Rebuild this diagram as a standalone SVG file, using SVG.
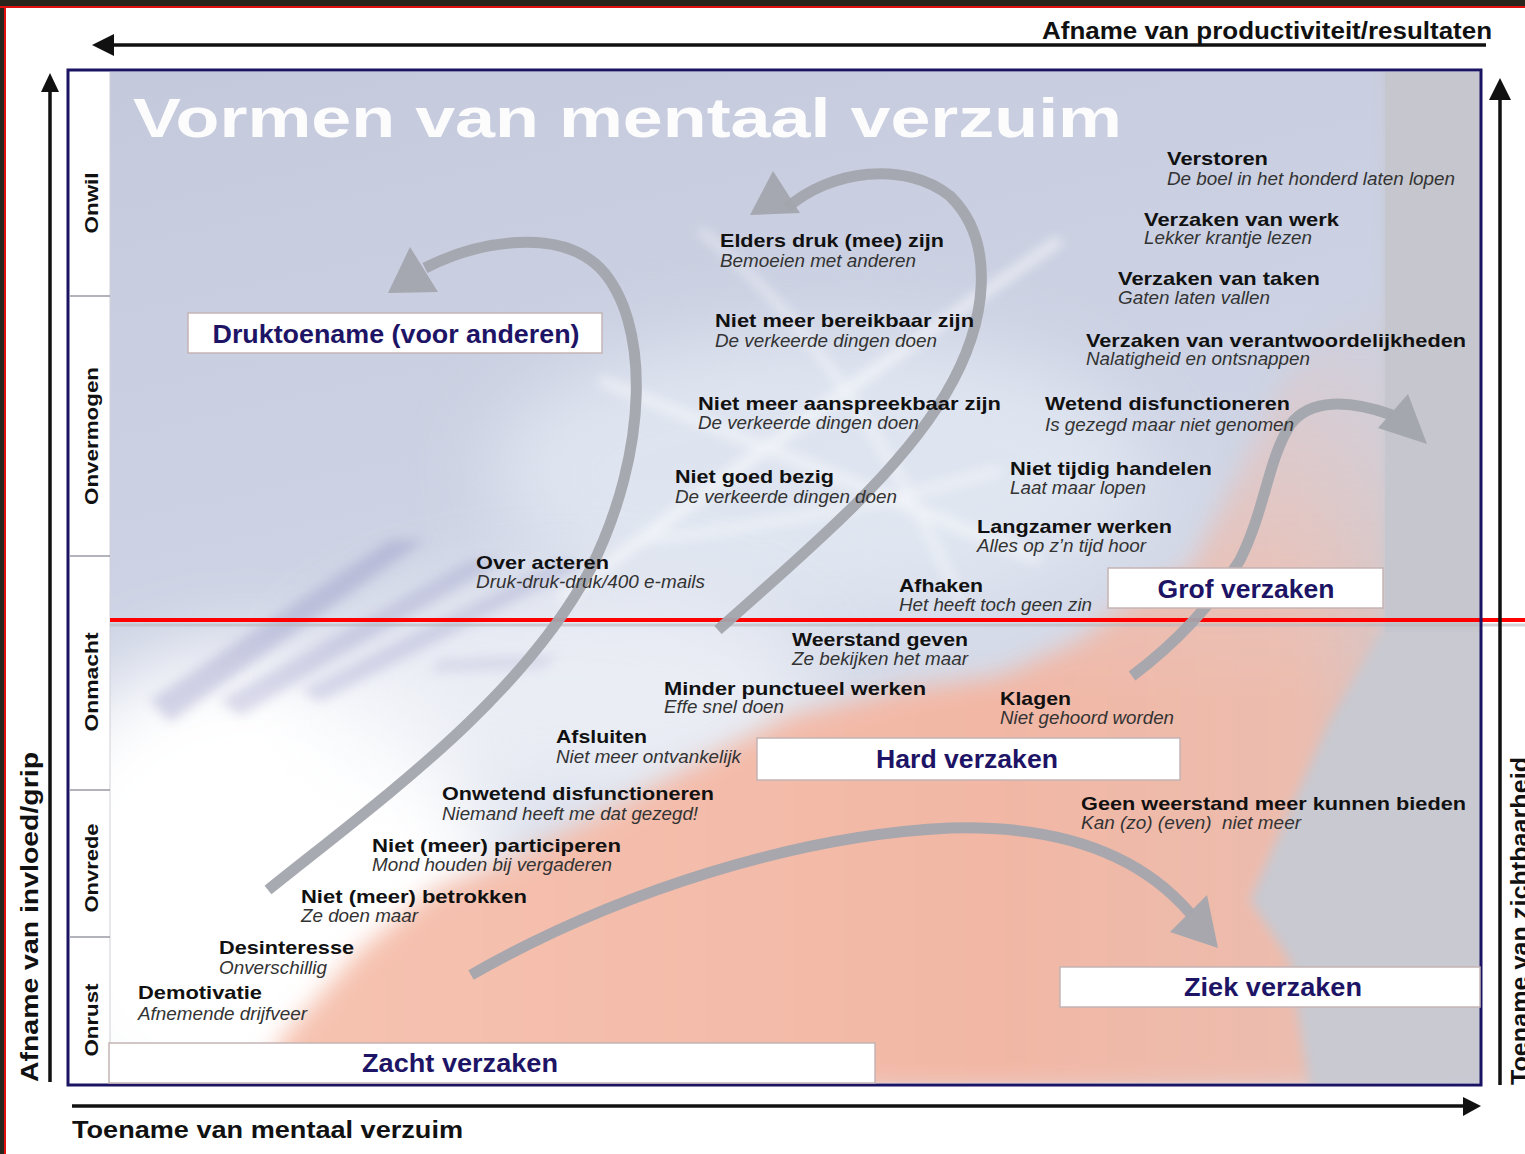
<svg xmlns="http://www.w3.org/2000/svg" width="1525" height="1154" viewBox="0 0 1525 1154">
<defs>
<style>
.b{font-family:"Liberation Sans",Arial,sans-serif;font-weight:bold;font-size:19px;fill:#111}
.i{font-family:"Liberation Sans",Arial,sans-serif;font-style:italic;font-size:18px;fill:#333}
.box{fill:#fff;stroke:#c4b4b4;stroke-width:1.5}
.bl{font-family:"Liberation Sans",Arial,sans-serif;font-weight:bold;font-size:25px;fill:#1e1466;text-anchor:middle}
.side{font-family:"Liberation Sans",Arial,sans-serif;font-weight:bold;font-size:19px;fill:#111;text-anchor:middle}
.ax{font-family:"Liberation Sans",Arial,sans-serif;font-weight:bold;font-size:23px;fill:#111}
.gc{fill:none;stroke:#a3a5ad;stroke-width:11;stroke-linecap:butt;opacity:0.95}
.gh{fill:#a3a5ad;opacity:0.95}
.sep{stroke:#9a9aa4;stroke-width:1.5}
</style>
<clipPath id="main"><rect x="110" y="72" width="1370" height="1011"/></clipPath>
<filter id="blur6" x="-20%" y="-20%" width="140%" height="140%"><feGaussianBlur stdDeviation="6"/></filter>
<filter id="blur12" x="-20%" y="-20%" width="140%" height="140%"><feGaussianBlur stdDeviation="12"/></filter>
<filter id="blur40" x="-50%" y="-50%" width="200%" height="200%"><feGaussianBlur stdDeviation="40"/></filter>
<linearGradient id="pink" gradientUnits="userSpaceOnUse" x1="270" y1="0" x2="1480" y2="0">
<stop offset="0" stop-color="#f6c3b1"/>
<stop offset="0.6" stop-color="#f2b7a5"/>
<stop offset="0.85" stop-color="#ecbcae"/>
<stop offset="1" stop-color="#c8c8d0"/>
</linearGradient>
<linearGradient id="fade" gradientUnits="userSpaceOnUse" x1="0" y1="280" x2="0" y2="700">
<stop offset="0" stop-color="#000"/>
<stop offset="0.35" stop-color="#666"/>
<stop offset="0.8" stop-color="#ddd"/>
<stop offset="1" stop-color="#fff"/>
</linearGradient>
<mask id="pinkmask" maskUnits="userSpaceOnUse" x="0" y="0" width="1525" height="1154"><rect x="0" y="0" width="1525" height="1154" fill="url(#fade)"/></mask>
<linearGradient id="bg" x1="0" y1="0" x2="0.3" y2="1">
<stop offset="0" stop-color="#c5c9dc"/>
<stop offset="0.5" stop-color="#cdd3e4"/>
<stop offset="1" stop-color="#dfe4ee"/>
</linearGradient>
</defs>

<!-- frame -->
<rect x="0" y="0" width="1525" height="1154" fill="#fff"/>
<rect x="0" y="0" width="1525" height="6" fill="#28261c"/>
<rect x="0" y="0" width="4" height="1154" fill="#28261c"/>
<line x1="0" y1="7" x2="1525" y2="7" stroke="#e01010" stroke-width="2"/>
<line x1="5" y1="7" x2="5" y2="1154" stroke="#e01010" stroke-width="2"/>

<!-- background -->
<g id="background" clip-path="url(#main)">
<rect x="110" y="72" width="1370" height="1011" fill="url(#bg)"/>
<ellipse cx="820" cy="470" rx="330" ry="140" fill="#eef4fa" opacity="0.55" filter="url(#blur40)"/>
<ellipse cx="250" cy="900" rx="250" ry="250" fill="#ffffff" filter="url(#blur40)"/>
<ellipse cx="560" cy="690" rx="260" ry="110" fill="#f4f6fa" opacity="0.7" filter="url(#blur40)"/>
<g opacity="0.35" filter="url(#blur6)">
<polygon points="150,700 390,540 425,540 170,722" fill="#8c8cc0"/>
<polygon points="220,700 470,560 505,560 240,716" fill="#9a9ac8"/>
<polygon points="300,690 560,560 585,565 320,702" fill="#a0a0cc"/>
<polygon points="440,660 560,655 540,668 430,672" fill="#b0b0d4"/>
</g>
<g stroke="#ffffff" fill="none" opacity="0.6" filter="url(#blur6)">
<path d="M 560 600 Q 800 420 1060 240" stroke-width="10"/>
<path d="M 600 380 Q 820 470 1040 560" stroke-width="8"/>
<path d="M 700 230 Q 850 350 960 600" stroke-width="6"/>
<path d="M 640 540 Q 830 520 1000 470" stroke-width="6"/>
</g>
<g mask="url(#pinkmask)">
<polygon filter="url(#blur12)" fill="url(#pink)" points="262,1090 280,1040 360,950 430,892 520,855 600,815 700,762 790,716 900,690 1000,676 1080,640 1130,600 1190,568 1235,480 1280,385 1330,325 1390,290 1490,290 1490,1090"/>
</g>
<polygon filter="url(#blur6)" fill="#c8c9d1" points="1385,60 1490,60 1490,1090 1310,1090 1290,960 1250,900 1330,720 1385,625"/>
<rect x="1385" y="72" width="95" height="560" fill="#c6c7ce"/>
</g>

<!-- sidebar -->
<g id="sidebar">
<rect x="70" y="72" width="40" height="1011" fill="#fff"/>
<line x1="110" y1="72" x2="110" y2="1083" stroke="#d0d0d8" stroke-width="1"/>
<line class="sep" x1="70" y1="296" x2="110" y2="296"/>
<line class="sep" x1="70" y1="556" x2="110" y2="556"/>
<line class="sep" x1="70" y1="790" x2="110" y2="790"/>
<line class="sep" x1="70" y1="937" x2="110" y2="937"/>
<text class="side" transform="translate(98,203) rotate(-90)" textLength="61" lengthAdjust="spacingAndGlyphs">Onwil</text>
<text class="side" transform="translate(98,436) rotate(-90)" textLength="138" lengthAdjust="spacingAndGlyphs">Onvermogen</text>
<text class="side" transform="translate(98,682) rotate(-90)" textLength="99" lengthAdjust="spacingAndGlyphs">Onmacht</text>
<text class="side" transform="translate(98,868) rotate(-90)" textLength="89" lengthAdjust="spacingAndGlyphs">Onvrede</text>
<text class="side" transform="translate(98,1020) rotate(-90)" textLength="73" lengthAdjust="spacingAndGlyphs">Onrust</text>
</g>

<!-- title -->
<text id="title" x="133" y="137" font-family="'Liberation Sans',Arial,sans-serif" font-weight="bold" font-size="56" fill="#ffffff" opacity="0.95" textLength="989" lengthAdjust="spacingAndGlyphs">Vormen van mentaal verzuim</text>

<!-- red divider -->
<line x1="110" y1="625" x2="1525" y2="625" stroke="#b8b8be" stroke-width="3" opacity="0.6"/>
<line x1="110" y1="620" x2="1525" y2="620" stroke="#ff0000" stroke-width="4"/>

<!-- connectors -->
<g id="connectors">
<path class="gc" d="M 268 890 C 380 800 520 700 590 570 C 650 450 650 320 600 268 C 560 228 480 240 425 268"/>
<polygon class="gh" points="410,247 388,293 438,292"/>
<path class="gc" d="M 718 630 C 820 540 900 470 945 395 C 990 320 995 240 950 196 C 905 160 830 170 787 208"/>
<polygon class="gh" points="773,171 750,215 800,213"/>
<path class="gc" d="M 1132 676 C 1180 640 1215 600 1240 560 C 1265 510 1268 460 1290 425 C 1310 398 1350 400 1392 415"/>
<polygon class="gh" points="1408,394 1427,444 1378,428"/>
<path class="gc" d="M 471 975 C 620 890 800 835 950 828 C 1060 825 1140 855 1190 913"/>
<polygon class="gh" points="1218,948 1207,895 1170,932"/>
</g>

<!-- main frame -->
<rect x="68" y="70" width="1413" height="1015" fill="none" stroke="#1b1464" stroke-width="3"/>

<!-- axes -->
<g id="axes">
<line x1="110" y1="45" x2="1486" y2="45" stroke="#111" stroke-width="3.5"/>
<polygon points="92,45 114,34 114,56" fill="#111"/>
<text class="ax" x="1492" y="39" text-anchor="end" font-size="21" textLength="450" lengthAdjust="spacingAndGlyphs">Afname van productiviteit/resultaten</text>
<line x1="50" y1="88" x2="50" y2="1082" stroke="#111" stroke-width="3.5"/>
<polygon points="50,73 41,92 59,92" fill="#111"/>
<text class="ax" transform="translate(38,1082) rotate(-90)" textLength="330" lengthAdjust="spacingAndGlyphs">Afname van invloed/grip</text>
<line x1="1500" y1="95" x2="1500" y2="1085" stroke="#111" stroke-width="3.5"/>
<polygon points="1500,78 1489,100 1511,100" fill="#111"/>
<text class="ax" transform="translate(1528,1085) rotate(-90)" textLength="328" lengthAdjust="spacingAndGlyphs">Toename van zichtbaarheid</text>
<line x1="72" y1="1106" x2="1466" y2="1106" stroke="#111" stroke-width="3.5"/>
<polygon points="1481,1106 1463,1097 1463,1116" fill="#111"/>
<text class="ax" x="72" y="1138" textLength="391" lengthAdjust="spacingAndGlyphs">Toename van mentaal verzuim</text>
</g>

<!-- category boxes -->
<g id="box-druktoename"><rect class="box" x="188" y="313" width="414" height="40"/><text class="bl" x="396" y="343" textLength="367" lengthAdjust="spacingAndGlyphs">Druktoename (voor anderen)</text></g>
<g id="box-grof"><rect class="box" x="1108" y="568" width="275" height="40"/><text class="bl" x="1246" y="598" textLength="177" lengthAdjust="spacingAndGlyphs">Grof verzaken</text></g>
<g id="box-hard"><rect class="box" x="757" y="738" width="423" height="42"/><text class="bl" x="967" y="768" textLength="182" lengthAdjust="spacingAndGlyphs">Hard verzaken</text></g>
<g id="box-zacht"><rect class="box" x="109" y="1043" width="766" height="40"/><text class="bl" x="460" y="1072" textLength="196" lengthAdjust="spacingAndGlyphs">Zacht verzaken</text></g>
<g id="box-ziek"><rect class="box" x="1060" y="967" width="420" height="40"/><text class="bl" x="1273" y="996" textLength="178" lengthAdjust="spacingAndGlyphs">Ziek verzaken</text></g>

<!-- items -->
<g id="verstoren"><text class="b" x="1167" y="165" textLength="101" lengthAdjust="spacingAndGlyphs">Verstoren</text><text class="i" x="1167" y="185" textLength="288" lengthAdjust="spacingAndGlyphs">De boel in het honderd laten lopen</text></g>
<g id="verzaken-werk"><text class="b" x="1144" y="226" textLength="195" lengthAdjust="spacingAndGlyphs">Verzaken van werk</text><text class="i" x="1144" y="244" textLength="168" lengthAdjust="spacingAndGlyphs">Lekker krantje lezen</text></g>
<g id="verzaken-taken"><text class="b" x="1118" y="285" textLength="202" lengthAdjust="spacingAndGlyphs">Verzaken van taken</text><text class="i" x="1118" y="304" textLength="152" lengthAdjust="spacingAndGlyphs">Gaten laten vallen</text></g>
<g id="verzaken-verantw"><text class="b" x="1086" y="347" textLength="380" lengthAdjust="spacingAndGlyphs">Verzaken van verantwoordelijkheden</text><text class="i" x="1086" y="365" textLength="224" lengthAdjust="spacingAndGlyphs">Nalatigheid en ontsnappen</text></g>
<g id="wetend"><text class="b" x="1045" y="410" textLength="245" lengthAdjust="spacingAndGlyphs">Wetend disfunctioneren</text><text class="i" x="1045" y="431" textLength="249" lengthAdjust="spacingAndGlyphs">Is gezegd maar niet genomen</text></g>
<g id="niet-tijdig"><text class="b" x="1010" y="475" textLength="202" lengthAdjust="spacingAndGlyphs">Niet tijdig handelen</text><text class="i" x="1010" y="494" textLength="136" lengthAdjust="spacingAndGlyphs">Laat maar lopen</text></g>
<g id="langzamer"><text class="b" x="977" y="533" textLength="195" lengthAdjust="spacingAndGlyphs">Langzamer werken</text><text class="i" x="977" y="552" textLength="169" lengthAdjust="spacingAndGlyphs">Alles op z’n tijd hoor</text></g>
<g id="afhaken"><text class="b" x="899" y="592" textLength="84" lengthAdjust="spacingAndGlyphs">Afhaken</text><text class="i" x="899" y="611" textLength="193" lengthAdjust="spacingAndGlyphs">Het heeft toch geen zin</text></g>
<g id="elders"><text class="b" x="720" y="247" textLength="224" lengthAdjust="spacingAndGlyphs">Elders druk (mee) zijn</text><text class="i" x="720" y="267" textLength="196" lengthAdjust="spacingAndGlyphs">Bemoeien met anderen</text></g>
<g id="bereikbaar"><text class="b" x="715" y="327" textLength="259" lengthAdjust="spacingAndGlyphs">Niet meer bereikbaar zijn</text><text class="i" x="715" y="347" textLength="222" lengthAdjust="spacingAndGlyphs">De verkeerde dingen doen</text></g>
<g id="aanspreekbaar"><text class="b" x="698" y="410" textLength="303" lengthAdjust="spacingAndGlyphs">Niet meer aanspreekbaar zijn</text><text class="i" x="698" y="429" textLength="221" lengthAdjust="spacingAndGlyphs">De verkeerde dingen doen</text></g>
<g id="goed-bezig"><text class="b" x="675" y="483" textLength="159" lengthAdjust="spacingAndGlyphs">Niet goed bezig</text><text class="i" x="675" y="503" textLength="222" lengthAdjust="spacingAndGlyphs">De verkeerde dingen doen</text></g>
<g id="over-acteren"><text class="b" x="476" y="569" textLength="133" lengthAdjust="spacingAndGlyphs">Over acteren</text><text class="i" x="476" y="588" textLength="229" lengthAdjust="spacingAndGlyphs">Druk-druk-druk/400 e-mails</text></g>
<g id="weerstand"><text class="b" x="792" y="646" textLength="176" lengthAdjust="spacingAndGlyphs">Weerstand geven</text><text class="i" x="792" y="665" textLength="176" lengthAdjust="spacingAndGlyphs">Ze bekijken het maar</text></g>
<g id="minder-punctueel"><text class="b" x="664" y="695" textLength="262" lengthAdjust="spacingAndGlyphs">Minder punctueel werken</text><text class="i" x="664" y="713" textLength="120" lengthAdjust="spacingAndGlyphs">Effe snel doen</text></g>
<g id="klagen"><text class="b" x="1000" y="705" textLength="71" lengthAdjust="spacingAndGlyphs">Klagen</text><text class="i" x="1000" y="724" textLength="174" lengthAdjust="spacingAndGlyphs">Niet gehoord worden</text></g>
<g id="afsluiten"><text class="b" x="556" y="743" textLength="91" lengthAdjust="spacingAndGlyphs">Afsluiten</text><text class="i" x="556" y="763" textLength="185" lengthAdjust="spacingAndGlyphs">Niet meer ontvankelijk</text></g>
<g id="onwetend"><text class="b" x="442" y="800" textLength="272" lengthAdjust="spacingAndGlyphs">Onwetend disfunctioneren</text><text class="i" x="442" y="820" textLength="256" lengthAdjust="spacingAndGlyphs">Niemand heeft me dat gezegd!</text></g>
<g id="geen-weerstand"><text class="b" x="1081" y="810" textLength="385" lengthAdjust="spacingAndGlyphs">Geen weerstand meer kunnen bieden</text><text class="i" x="1081" y="829" textLength="220" lengthAdjust="spacingAndGlyphs" xml:space="preserve">Kan (zo) (even)  niet meer</text></g>
<g id="participeren"><text class="b" x="372" y="852" textLength="249" lengthAdjust="spacingAndGlyphs">Niet (meer) participeren</text><text class="i" x="372" y="871" textLength="240" lengthAdjust="spacingAndGlyphs">Mond houden bij vergaderen</text></g>
<g id="betrokken"><text class="b" x="301" y="903" textLength="226" lengthAdjust="spacingAndGlyphs">Niet (meer) betrokken</text><text class="i" x="301" y="922" textLength="117" lengthAdjust="spacingAndGlyphs">Ze doen maar</text></g>
<g id="desinteresse"><text class="b" x="219" y="954" textLength="135" lengthAdjust="spacingAndGlyphs">Desinteresse</text><text class="i" x="219" y="974" textLength="108" lengthAdjust="spacingAndGlyphs">Onverschillig</text></g>
<g id="demotivatie"><text class="b" x="138" y="999" textLength="124" lengthAdjust="spacingAndGlyphs">Demotivatie</text><text class="i" x="138" y="1020" textLength="169" lengthAdjust="spacingAndGlyphs">Afnemende drijfveer</text></g>
</svg>
